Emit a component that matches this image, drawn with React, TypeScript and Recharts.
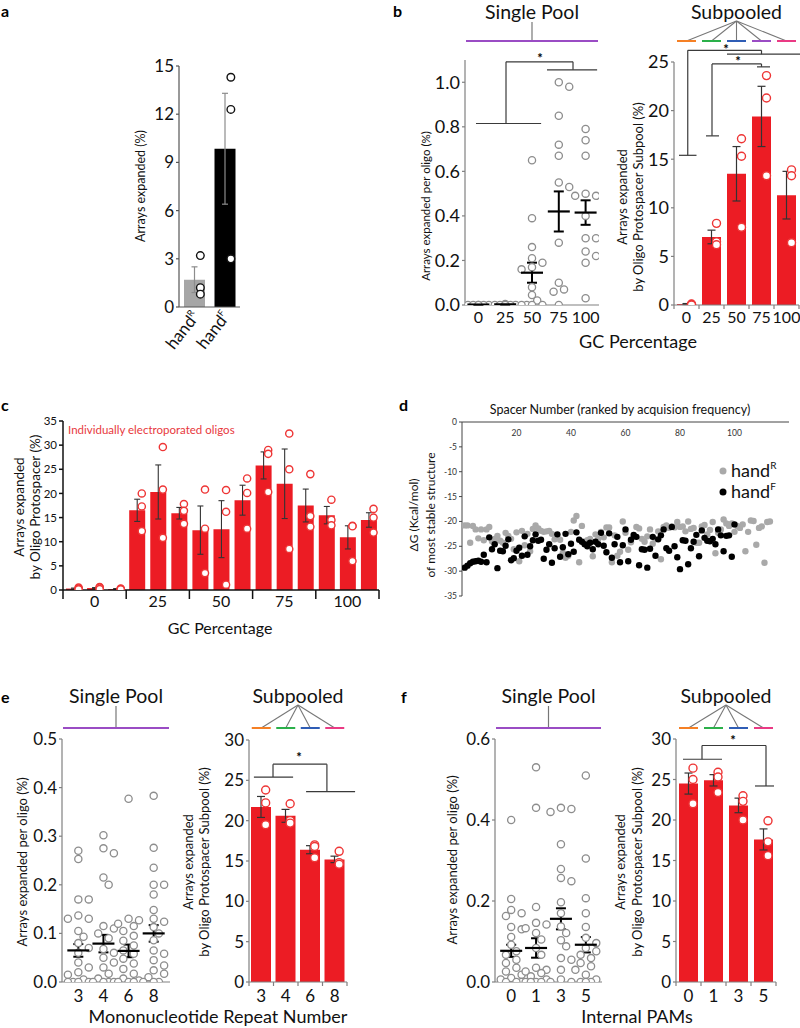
import React from 'react';
import { ComposedChart, ScatterChart, Bar, Scatter, XAxis, YAxis, ErrorBar, Cell, ReferenceLine } from 'recharts';

const FONT = "Lato, 'Open Sans', sans-serif";
const RED = '#ec1c24';
const RED_PT = '#ee3535';
const GREY_PT = '#8d8d8d';
const AX = '#808080';
const HDR = ['#f58025', '#2bb04a', '#2f5db5', '#9a4cc4', '#ea3a84'];
const PURPLE = '#9a4cc4';

// ---------------- data ----------------
// panel a
const aCats = ['R', 'F'];
const aMeans = [1.7, 9.85];
const aSem = [0.8, 3.45];
const aPtsR = [3.2, 1.2, 0.8];
const aPtsF = [14.3, 12.3, 3.0];

// panel b
const gcCats = ['0', '25', '50', '75', '100'];
const bPool0 = [0, 0, 0, 0, 0, 0];
const bPool25 = [0.005, 0, 0, 0, 0, 0, 0];
const bPool50 = [0.65, 0.39, 0.26, 0.21, 0.19, 0.17, 0.16, 0.08, 0.045, 0.02, 0, 0, 0, 0];
const bPool75 = [1.0, 0.98, 0.85, 0.72, 0.67, 0.55, 0.53, 0.28, 0.1, 0.07, 0.06, 0];
const bPool100 = [0.79, 0.74, 0.67, 0.5, 0.49, 0.49, 0.4, 0.3, 0.3, 0.24, 0.22, 0.19, 0.03];
const bPoolMean = [0.002, 0.003, 0.145, 0.42, 0.415];
const bPoolSem = [0.002, 0.002, 0.045, 0.09, 0.055];
const bSubMean = [0.1, 7.0, 13.5, 19.4, 11.3];
const bSubSem = [0.05, 0.7, 2.8, 3.1, 2.45];
const bSubPts = [[0.1, 0.05, 0], [8.4, 6.5, 6.2], [17.1, 15.3, 8.0], [23.6, 21.3, 13.3], [13.9, 13.3, 6.4]];

// panel c
const cCats = ['0a', '0b', '0c', '25a', '25b', '25c', '50a', '50b', '50c', '75a', '75b', '75c', '100a', '100b', '100c'];
const cGroupLabels = ['0', '25', '50', '75', '100'];
const cMeans = [0.3, 0.4, 0.2, 16.5, 20.3, 15.9, 12.4, 12.6, 18.6, 25.8, 22.0, 17.5, 15.5, 10.9, 14.5];
const cSem = [0.1, 0.1, 0.1, 2.3, 5.6, 1.2, 5.0, 5.9, 3.1, 2.8, 7.2, 3.4, 1.8, 2.4, 1.5];
const cPts = [
  [0.5, 0.3, 0.1], [0.6, 0.5, 0.2], [0.3, 0.2, 0.1],
  [20.0, 17.3, 12.2], [29.6, 20.8, 10.8], [17.8, 16.4, 13.7],
  [20.8, 12.7, 3.5], [20.7, 16.2, 1.1], [23.1, 20.1, 12.7],
  [29.0, 28.2, 20.3], [32.4, 25.0, 8.5], [24.0, 15.3, 13.1],
  [18.7, 14.5, 13.4], [13.3, 13.2, 6.0], [16.8, 15.0, 11.9],
];

// panel d
const dHandR = [
  -20.8, -20.8, -24.3, -20.9, -21.6, -23.4, -21.6, -23.8, -21.6, -21.1,
  -24.0, -23.5, -22.9, -23.9, -24.3, -22.3, -22.9, -23.5, -25.6, -22.2,
  -28.0, -21.9, -24.8, -22.5, -26.0, -21.5, -20.8, -21.4, -21.9, -22.1,
  -22.0, -21.9, -22.5, -23.6, -23.2, -23.7, -26.3, -27.3, -26.9, -22.1,
  -19.8, -18.9, -28.2, -20.9, -24.1, -23.8, -23.5, -27.0, -22.6, -23.5,
  -22.1, -23.2, -21.2, -21.2, -28.2, -22.8, -26.9, -26.1, -20.0, -22.3,
  -25.7, -24.2, -23.1, -21.1, -21.4, -23.5, -24.1, -23.0, -21.6, -24.5,
  -23.6, -22.0, -27.6, -21.1, -20.8, -21.3, -21.0, -21.2, -20.1, -21.1,
  -21.0, -22.0, -20.0, -21.5, -21.3, -24.3, -24.3, -21.0, -20.7, -22.6,
  -21.7, -20.1, -26.4, -22.3, -21.6, -19.6, -20.4, -20.9, -20.4, -22.1,
  -20.9, -21.3, -20.6, -26.0, -22.1, -19.8, -19.9, -24.7, -21.3, -21.0,
  -28.3, -20.1, -20.0,
];
const dHandF = [
  -29.3, -28.9, -28.4, -28.1, -28.0, -27.9, -28.1, -26.7, -28.2, -23.2,
  -25.6, -24.6, -29.4, -25.9, -26.0, -24.9, -23.6, -27.8, -27.4, -25.9,
  -25.3, -26.9, -23.0, -26.7, -25.0, -23.8, -22.6, -23.9, -23.7, -27.5,
  -25.7, -24.6, -28.3, -25.4, -22.6, -27.1, -25.2, -22.5, -26.6, -24.5,
  -26.1, -22.2, -23.7, -24.1, -24.6, -25.0, -24.3, -25.6, -24.1, -24.6,
  -22.3, -24.9, -26.2, -22.4, -27.3, -24.6, -23.1, -28.2, -24.8, -21.6,
  -28.0, -23.7, -22.7, -23.1, -28.8, -25.6, -25.7, -29.3, -25.5, -23.1,
  -26.9, -23.6, -22.8, -21.6, -25.4, -25.9, -21.1, -25.0, -27.2, -29.6,
  -23.8, -23.9, -28.6, -25.4, -24.1, -22.7, -27.0, -21.8, -23.3, -23.9,
  -24.0, -23.5, -24.6, -21.6, -22.8, -26.0, -22.9, -22.8, -27.1, -20.6,
];
const dXTicks = [20, 40, 60, 80, 100];
const dYTicks = [-35, -30, -25, -20, -15, -10, -5, 0];

// panel e
const eCats = ['3', '4', '6', '8'];
const ePool3 = [0.27, 0.253, 0.17, 0.17, 0.137, 0.13, 0.13, 0.105, 0.093, 0.08, 0.07, 0.06, 0.04, 0.03, 0.02, 0.015, 0.005, 0, 0, 0, 0];
const ePool4 = [0.302, 0.275, 0.265, 0.215, 0.2, 0.115, 0.11, 0.1, 0.09, 0.068, 0.06, 0.05, 0.04, 0.03, 0.017, 0.007, 0, 0, 0, 0];
const ePool6 = [0.377, 0.13, 0.127, 0.12, 0.115, 0.105, 0.095, 0.085, 0.075, 0.065, 0.058, 0.048, 0.038, 0.027, 0.017, 0.007, 0.003, 0, 0, 0];
const ePool8 = [0.383, 0.276, 0.235, 0.2, 0.2, 0.18, 0.148, 0.13, 0.124, 0.113, 0.1, 0.086, 0.065, 0.058, 0.045, 0.034, 0.024, 0.017, 0.01, 0, 0, 0];
const ePoolMean = [0.065, 0.079, 0.064, 0.1];
const ePoolSem = [0.013, 0.018, 0.013, 0.017];
const eSubMean = [21.7, 20.6, 16.4, 15.2];
const eSubSem = [1.3, 0.8, 0.5, 0.4];
const eSubPts = [[23.8, 22.2, 19.5], [22.1, 20.0, 19.7], [17.0, 16.8, 15.4], [16.2, 14.8, 14.6]];

// panel f
const fCats = ['0', '1', '3', '5'];
const fPool0 = [0.4, 0.205, 0.178, 0.17, 0.163, 0.136, 0.13, 0.111, 0.092, 0.076, 0.067, 0.055, 0.047, 0.035, 0.026, 0.018, 0.01, 0.006, 0, 0, 0];
const fPool1 = [0.53, 0.43, 0.185, 0.146, 0.142, 0.133, 0.121, 0.105, 0.084, 0.067, 0.035, 0.03, 0.026, 0.022, 0.014, 0.006, 0, 0, 0, 0];
const fPool3 = [0.43, 0.427, 0.42, 0.34, 0.279, 0.257, 0.249, 0.197, 0.17, 0.137, 0.121, 0.103, 0.088, 0.059, 0.055, 0.03, 0.006, 0, 0];
const fPool5 = [0.51, 0.305, 0.207, 0.17, 0.136, 0.109, 0.096, 0.084, 0.076, 0.067, 0.059, 0.047, 0.039, 0.03, 0.018, 0.006, 0, 0, 0];
const fPoolMean = [0.077, 0.084, 0.156, 0.092];
const fPoolSem = [0.015, 0.024, 0.026, 0.019];
const fSubMean = [24.5, 24.9, 21.8, 17.6];
const fSubSem = [1.3, 0.7, 0.9, 1.3];
const fSubPts = [[26.4, 25.0, 22.0], [25.9, 25.3, 23.4], [23.0, 22.3, 20.0], [19.9, 17.3, 15.6]];

// significance brackets, in data units [x1, y1, x2, y2]
const bPoolBr = [[-0.09, 0.815, 2.34, 0.815], [1.03, 0.815, 1.03, 1.092], [1.03, 1.092, 3.53, 1.092], [3.53, 1.092, 3.53, 1.056], [2.56, 1.056, 4.43, 1.056]];
const bSubBr = [
  [-0.3, 15.4, 0.4, 15.4], [0.05, 15.4, 0.05, 26.2], [0.05, 26.2, 3.0, 26.2], [3.0, 26.2, 3.0, 25.8], [1.62, 25.8, 4.54, 25.8],
  [0.78, 17.4, 1.3, 17.4], [1.02, 17.4, 1.02, 24.8], [1.02, 24.8, 3.0, 24.8], [3.0, 24.8, 3.0, 24.5], [2.82, 24.5, 3.34, 24.5],
];
const eSubBr = [[-0.3, 25.4, 1.3, 25.4], [0.48, 25.4, 0.48, 27.0], [0.48, 27.0, 2.68, 27.0], [2.68, 27.0, 2.68, 23.6], [1.83, 23.6, 3.83, 23.6]];
const fSubBr = [[-0.22, 27.5, 1.34, 27.5], [0.54, 27.5, 0.54, 29.2], [0.54, 29.2, 3.1, 29.2], [3.1, 29.2, 3.1, 24.2], [2.66, 24.2, 3.42, 24.2]];

// ---------------- layout ----------------
type Geo = { pl: number; pt: number; pr: number; pb: number; padL: number; padT: number; padR: number; padB: number };
const G = {
  a: { pl: 179, pt: 66, pr: 240, pb: 307, padL: 42, padT: 14, padR: 6, padB: 62 },
  bp: { pl: 465, pt: 60, pr: 599, pb: 305, padL: 45, padT: 12, padR: 4, padB: 30 },
  bs: { pl: 674, pt: 62, pr: 799, pb: 305, padL: 36, padT: 16, padR: 1, padB: 30 },
  c: { pl: 63, pt: 421, pr: 379, pb: 590, padL: 40, padT: 10, padR: 6, padB: 28 },
  d: { pl: 462, pt: 422, pr: 789, pb: 596, padL: 24, padT: 6, padR: 8, padB: 4 },
  ep: { pl: 62, pt: 739, pr: 170, pb: 982, padL: 45, padT: 12, padR: 4, padB: 30 },
  es: { pl: 249, pt: 740, pr: 347, pb: 982, padL: 36, padT: 12, padR: 10, padB: 30 },
  fp: { pl: 495, pt: 739, pr: 602, pb: 982, padL: 45, padT: 12, padR: 4, padB: 30 },
  fs: { pl: 676, pt: 739, pr: 776, pb: 982, padL: 36, padT: 12, padR: 6, padB: 30 },
};

function box(g: Geo) {
  return {
    left: g.pl - g.padL,
    top: g.pt - g.padT,
    width: g.pr - g.pl + g.padL + g.padR,
    height: g.pb - g.pt + g.padT + g.padB,
  };
}

function swarm(vals: number[], pxY: number, pxX: number, r: number, maxPx: number): number[] {
  const placed: { x: number; y: number }[] = [];
  const step = r * 1.45;
  const minD = r * 2.1;
  return vals.map((v) => {
    const yp = v * pxY;
    let best = 0;
    let bestD = -1;
    for (let k = 0; k < 30; k++) {
      const off = k === 0 ? 0 : (k % 2 === 1 ? 1 : -1) * Math.ceil(k / 2) * step;
      if (Math.abs(off) > maxPx) break;
      const d = placed.length ? Math.min(...placed.map((p) => Math.hypot(p.x - off, p.y - yp))) : 999;
      if (d >= minD) { best = off; bestD = d; break; }
      if (d > bestD) { bestD = d; best = off; }
    }
    placed.push({ x: best, y: yp });
    return best / pxX;
  });
}

function XTick(p: any) {
  const { x, y, payload, labels, fontSize, dy, tickLen, color, sw } = p;
  const v = payload.value;
  const lab = (labels || []).find((l: any) => Math.abs(l.v - v) < 1e-6);
  if (lab) {
    return (
      <text x={x} y={y + dy} textAnchor="middle" fontSize={fontSize} fontFamily={FONT} fill="#111">
        {lab.t}
      </text>
    );
  }
  if (!tickLen) return null;
  return <line x1={x} y1={y} x2={x} y2={y + tickLen} stroke={color} strokeWidth={sw} />;
}

const openCircle = (r: number, stroke: string, sw: number) => (sp: any) =>
  <circle cx={sp.cx} cy={sp.cy} r={r} fill="#fff" stroke={stroke} strokeWidth={sw} />;

function BarPanel(p: any) {
  const g: Geo = p.g;
  const b = box(g);
  const n = p.cats.length;
  const data = p.cats.map((c: string, i: number) => ({ c, m: p.means[i], s: p.sems[i] }));
  const ptData = p.pts.flatMap((arr: number[], i: number) => arr.map((y) => ({ x: i + p.ptOffset, y })));
  const labels = p.xLabels || [];
  const ticks = [...(p.xLines || []), ...labels.map((l: any) => l.v)];
  return (
    <div style={{ position: 'absolute', left: b.left, top: b.top }}>
      <ComposedChart width={b.width} height={b.height} data={data} margin={{ top: g.padT, right: g.padR, bottom: 0, left: 0 }}>
        <XAxis
          xAxisId="num" dataKey="x" type="number" domain={[-0.5, n - 0.5]} allowDataOverflow
          ticks={ticks} interval={0} tickSize={0} tickMargin={0} height={g.padB}
          axisLine={{ stroke: p.axisColor, strokeWidth: p.axisWidth }} tickLine={false}
          tick={p.xTick || ((tp: any) => <XTick {...tp} labels={labels} fontSize={p.xFont} dy={p.xDy} tickLen={p.xTickLen} color={p.axisColor} sw={p.axisWidth} />)}
        />
        <XAxis xAxisId="cat" dataKey="c" type="category" hide height={0} />
        <YAxis
          yAxisId="y" type="number" domain={[0, p.yMax]} allowDataOverflow ticks={p.yTicks} interval={0}
          width={g.padL} tickSize={p.yTickSize || 3} tickMargin={2}
          axisLine={{ stroke: p.axisColor, strokeWidth: p.axisWidth }} tickLine={{ stroke: p.axisColor, strokeWidth: p.axisWidth }}
          tick={{ fontSize: p.yFont, fill: '#111', fontFamily: FONT }} tickFormatter={p.yFmt}
        />
        <Bar xAxisId="cat" yAxisId="y" dataKey="m" barSize={p.barSize} isAnimationActive={false}>
          {data.map((_: any, i: number) => <Cell key={i} fill={p.fills[i % p.fills.length]} />)}
          <ErrorBar dataKey="s" direction="y" width={p.errCap} stroke={p.errColor} strokeWidth={p.errWidth} />
        </Bar>
        <Scatter xAxisId="num" yAxisId="y" data={ptData} dataKey="y" isAnimationActive={false} shape={openCircle(p.r, p.ptStroke, p.ptSw || 1.4)} />
        {(p.segs || []).map((s: number[], i: number) => (
          <ReferenceLine key={i} xAxisId="num" yAxisId="y" ifOverflow="visible" stroke="#3a3a3a" strokeWidth={1.2}
            segment={[{ x: s[0], y: s[1] }, { x: s[2], y: s[3] }]} />
        ))}
      </ComposedChart>
    </div>
  );
}

function PoolPanel(p: any) {
  const g: Geo = p.g;
  const b = box(g);
  const [d0, d1] = p.xDomain;
  const pxX = (g.pr - g.pl) / (d1 - d0);
  const pxY = (g.pb - g.pt) / p.yMax;
  const r = 3.6;
  const ptData = p.groups.flatMap((arr: number[], i: number) => {
    const offs = swarm(arr, pxY, pxX, r, 12);
    return arr.map((y, k) => ({ x: i + offs[k], y }));
  });
  const meanData = p.means.map((m: number, i: number) => ({ x: i, y: m, e: p.sems[i] }));
  const labels = p.cats.map((t: string, i: number) => ({ v: i, t }));
  return (
    <div style={{ position: 'absolute', left: b.left, top: b.top }}>
      <ComposedChart width={b.width} height={b.height} margin={{ top: g.padT, right: g.padR, bottom: 0, left: 0 }}>
        <XAxis
          xAxisId="num" dataKey="x" type="number" domain={p.xDomain} allowDataOverflow
          ticks={labels.map((l: any) => l.v)} interval={0} tickSize={0} tickMargin={0} height={g.padB}
          axisLine={{ stroke: AX, strokeWidth: 1.2 }} tickLine={false}
          tick={(tp: any) => <XTick {...tp} labels={labels} fontSize={p.xFont} dy={p.xDy} tickLen={0} />}
        />
        <YAxis
          yAxisId="y" type="number" domain={[0, p.yMax]} allowDataOverflow ticks={p.yTicks} interval={0}
          width={g.padL} tickSize={3} tickMargin={2}
          axisLine={{ stroke: AX, strokeWidth: 1.2 }} tickLine={{ stroke: AX, strokeWidth: 1.2 }}
          tick={{ fontSize: p.yFont, fill: '#111', fontFamily: FONT }} tickFormatter={(v: number) => v.toFixed(1)}
        />
        <Scatter xAxisId="num" yAxisId="y" data={ptData} dataKey="y" isAnimationActive={false} shape={openCircle(r, GREY_PT, 1.3)} />
        <Scatter xAxisId="num" yAxisId="y" data={meanData} dataKey="y" isAnimationActive={false}
          shape={(sp: any) => <line x1={sp.cx - 11} x2={sp.cx + 11} y1={sp.cy} y2={sp.cy} stroke="#000" strokeWidth={2.2} />}>
          <ErrorBar dataKey="e" direction="y" width={5} stroke="#000" strokeWidth={2} />
        </Scatter>
        {(p.segs || []).map((s: number[], i: number) => (
          <ReferenceLine key={i} xAxisId="num" yAxisId="y" ifOverflow="visible" stroke="#3a3a3a" strokeWidth={1.2}
            segment={[{ x: s[0], y: s[1] }, { x: s[2], y: s[3] }]} />
        ))}
      </ComposedChart>
    </div>
  );
}

function DPanel() {
  const g = G.d;
  const b = box(g);
  const rData = dHandR.map((y, i) => ({ x: i + 1, y }));
  const fData = dHandF.map((y, i) => ({ x: i + 1, y }));
  return (
    <div style={{ position: 'absolute', left: b.left, top: b.top }}>
      <ScatterChart width={b.width} height={b.height} margin={{ top: 0, right: g.padR, bottom: g.padB, left: 0 }}>
        <XAxis
          type="number" dataKey="x" orientation="top" domain={[0, 120]} allowDataOverflow ticks={dXTicks} interval={0}
          height={g.padT} tickSize={0} tickMargin={0} axisLine={{ stroke: '#444', strokeWidth: 1 }} tickLine={false}
          tick={(tp: any) => (
            <text x={tp.x} y={tp.y + 14} textAnchor="middle" fontSize={8.5} fontFamily={FONT} fill="#333">{tp.payload.value}</text>
          )}
        />
        <YAxis
          type="number" dataKey="y" domain={[-35, 0]} allowDataOverflow ticks={dYTicks} interval={0} width={g.padL}
          tickSize={3} tickMargin={2} axisLine={{ stroke: '#444', strokeWidth: 1 }} tickLine={{ stroke: '#444' }}
          tick={{ fontSize: 8.5, fill: '#333', fontFamily: FONT }}
        />
        <Scatter data={rData} isAnimationActive={false} shape={(sp: any) => <circle cx={sp.cx} cy={sp.cy} r={3.2} fill="#a9a9a9" />} />
        <Scatter data={fData} isAnimationActive={false} shape={(sp: any) => <circle cx={sp.cx} cy={sp.cy} r={3.2} fill="#000" />} />
      </ScatterChart>
    </div>
  );
}

const ATick = (tp: any) => {
  const i = Math.round(tp.payload.value);
  const lab = aCats[i];
  if (lab === undefined) return null;
  const ax = tp.x + 6;
  const ay = tp.y + 10;
  return (
    <text x={ax} y={ay} textAnchor="end" transform={`rotate(-52 ${ax} ${ay})`} fontSize={17} fontFamily={FONT} fill="#111">
      hand<tspan fontSize={9} dy={-7}>{lab}</tspan>
    </text>
  );
};

// ---------------- overlay (texts and headers) ----------------
function VLabel({ x, y, size, children }: any) {
  return (
    <text transform={`translate(${x},${y}) rotate(-90)`} textAnchor="middle" dominantBaseline="central" fontSize={size} fill="#111">
      {children}
    </text>
  );
}

function PoolHeader({ g, yText, yLine }: any) {
  const cx = (g.pl + g.pr) / 2;
  return (
    <g>
      <text x={cx} y={yText} textAnchor="middle" fontSize={19.5} fill="#111">Single Pool</text>
      <line x1={cx} y1={yText + 3} x2={cx} y2={yLine} stroke="#777" strokeWidth={1.2} />
      <line x1={g.pl + 1} y1={yLine} x2={g.pr - 1} y2={yLine} stroke={PURPLE} strokeWidth={2} />
    </g>
  );
}

function SubHeader({ g, n, yText, yLine, colors, half }: any) {
  const cx = (g.pl + g.pr) / 2;
  const band = (g.pr - g.pl) / n;
  const centers = Array.from({ length: n }, (_, i) => g.pl + (i + 0.5) * band);
  return (
    <g>
      <text x={cx} y={yText} textAnchor="middle" fontSize={19.5} fill="#111">Subpooled</text>
      {centers.map((c, i) => (
        <g key={i}>
          <line x1={cx} y1={yText + 2} x2={c} y2={yLine} stroke="#777" strokeWidth={1.1} />
          <line x1={c - half} y1={yLine} x2={c + half} y2={yLine} stroke={colors[i]} strokeWidth={2} />
        </g>
      ))}
    </g>
  );
}

function Overlay() {
  return (
    <svg width={800} height={1028} style={{ position: 'absolute', left: 0, top: 0, pointerEvents: 'none' }} fontFamily={FONT}>
      <g fontWeight="bold" fontSize={16} fill="#000">
        <text x={1} y={17}>a</text>
        <text x={393} y={17}>b</text>
        <text x={1} y={411}>c</text>
        <text x={399} y={411}>d</text>
        <text x={1} y={703}>e</text>
        <text x={401} y={703}>f</text>
      </g>

      <VLabel x={140} y={186} size={12.5}>Arrays expanded (%)</VLabel>

      <PoolHeader g={G.bp} yText={19} yLine={41} />
      <SubHeader g={G.bs} n={5} yText={19} yLine={41} colors={HDR} half={9.5} />
      <VLabel x={425} y={206} size={11.5}>Arrays expanded per oligo (%)</VLabel>
      <VLabel x={622} y={197} size={13}>Arrays expanded</VLabel>
      <VLabel x={638} y={197} size={13}>by Oligo Protospacer Subpool (%)</VLabel>
      <text x={638} y={348} textAnchor="middle" fontSize={18} fill="#111">GC Percentage</text>
      <text x={540} y={63} textAnchor="middle" fontSize={13} fontWeight="bold">*</text>
      <text x={726} y={54} textAnchor="middle" fontSize={13} fontWeight="bold">*</text>
      <text x={738} y={66} textAnchor="middle" fontSize={13} fontWeight="bold">*</text>

      <text x={68} y={434} fontSize={11.5} fill="#e8383d">Individually electroporated oligos</text>
      <VLabel x={19} y={507} size={13.5}>Arrays expanded</VLabel>
      <VLabel x={35} y={507} size={13.5}>by Oligo Protospacer (%)</VLabel>
      <text x={220} y={634} textAnchor="middle" fontSize={16} fill="#111">GC Percentage</text>

      <text x={620} y={414} textAnchor="middle" fontSize={12.5} fill="#111">Spacer Number (ranked by acquision frequency)</text>
      <VLabel x={413} y={515} size={12}>ΔG (Kcal/mol)</VLabel>
      <VLabel x={430} y={515} size={12}>of most stable structure</VLabel>
      <circle cx={723} cy={471} r={3.5} fill="#a9a9a9" />
      <text x={731} y={477} fontSize={18} fill="#111">hand<tspan fontSize={10} dy={-8}>R</tspan></text>
      <circle cx={723} cy={492} r={3.5} fill="#000" />
      <text x={731} y={498} fontSize={18} fill="#111">hand<tspan fontSize={10} dy={-8}>F</tspan></text>

      <PoolHeader g={G.ep} yText={703} yLine={728} />
      <SubHeader g={G.es} n={4} yText={703} yLine={728} colors={[HDR[0], HDR[1], HDR[2], HDR[4]]} half={9.5} />
      <VLabel x={22} y={862} size={13}>Arrays expanded per oligo (%)</VLabel>
      <VLabel x={188} y={862} size={13}>Arrays expanded</VLabel>
      <VLabel x={204} y={862} size={13}>by Oligo Protospacer Subpool (%)</VLabel>
      <text x={218} y={1023} textAnchor="middle" fontSize={18} fill="#111">Mononucleotide Repeat Number</text>
      <text x={299} y={762} textAnchor="middle" fontSize={13} fontWeight="bold">*</text>

      <PoolHeader g={G.fp} yText={703} yLine={728} />
      <SubHeader g={G.fs} n={4} yText={703} yLine={728} colors={[HDR[0], HDR[1], HDR[2], HDR[4]]} half={9.5} />
      <VLabel x={452} y={860} size={13}>Arrays expanded per oligo (%)</VLabel>
      <VLabel x={620} y={862} size={13}>Arrays expanded</VLabel>
      <VLabel x={637} y={862} size={13}>by Oligo Protospacer Subpool (%)</VLabel>
      <text x={637} y={1023} textAnchor="middle" fontSize={18} fill="#111">Internal PAMs</text>
      <text x={733} y={745} textAnchor="middle" fontSize={13} fontWeight="bold">*</text>
    </svg>
  );
}

const range = (a: number, b: number, s: number) => {
  const out: number[] = [];
  for (let v = a; v <= b + 1e-9; v += s) out.push(Math.round(v * 1000) / 1000);
  return out;
};

export default function App() {
  const subLines = (n: number) => range(-0.5, n - 0.5, 1);
  const catLabels = (cats: string[]) => cats.map((t, i) => ({ v: i, t }));
  return (
    <div style={{ position: 'absolute', left: 0, top: 0, width: 800, height: 1028, background: '#fff', overflow: 'hidden', fontFamily: FONT }}>
      {/* a */}
      <BarPanel
        g={G.a} cats={aCats} means={aMeans} sems={aSem} pts={[aPtsR, aPtsF]} fills={['#a6a6a6', '#000000']}
        ptStroke="#111" ptOffset={0.2} r={3.8} yMax={15} yTicks={range(0, 15, 3)} yFont={17}
        axisColor="#555" axisWidth={1.2} errColor="#8c8c8c" errWidth={1.2} errCap={3} barSize={21}
        xTick={ATick} xLabels={catLabels(aCats)}
      />
      {/* b */}
      <PoolPanel
        g={G.bp} cats={gcCats} xDomain={[-0.5, 4.5]} groups={[bPool0, bPool25, bPool50, bPool75, bPool100]}
        means={bPoolMean} sems={bPoolSem} yMax={1.1} yTicks={range(0, 1, 0.2)} yFont={18} xFont={16} xDy={18} segs={bPoolBr}
      />
      <BarPanel
        g={G.bs} cats={gcCats} means={bSubMean} sems={bSubSem} pts={bSubPts} fills={[RED]}
        ptStroke={RED_PT} ptOffset={0.2} r={4} yMax={25} yTicks={range(0, 25, 5)} yFont={18}
        axisColor={AX} axisWidth={1.2} errColor="#333" errWidth={1.2} errCap={4} barSize={19}
        xLabels={catLabels(gcCats)} xLines={subLines(5)} xFont={16} xDy={18} xTickLen={4} segs={bSubBr}
      />
      {/* c */}
      <BarPanel
        g={G.c} cats={cCats} means={cMeans} sems={cSem} pts={cPts} fills={[RED]}
        ptStroke={RED_PT} ptOffset={0.24} r={3.6} yMax={35} yTicks={range(0, 35, 5)} yFont={11.5} yTickSize={4}
        axisColor="#111" axisWidth={1.5} errColor="#333" errWidth={1.1} errCap={3} barSize={16}
        xLabels={cGroupLabels.map((t, i) => ({ v: i * 3 + 1, t }))} xLines={range(-0.5, 14.5, 3)} xFont={16} xDy={17} xTickLen={9}
      />
      {/* d */}
      <DPanel />
      {/* e */}
      <PoolPanel
        g={G.ep} cats={eCats} xDomain={[-0.65, 3.65]} groups={[ePool3, ePool4, ePool6, ePool8]}
        means={ePoolMean} sems={ePoolSem} yMax={0.5} yTicks={range(0, 0.5, 0.1)} yFont={17} xFont={17} xDy={20}
      />
      <BarPanel
        g={G.es} cats={eCats} means={eSubMean} sems={eSubSem} pts={eSubPts} fills={[RED]}
        ptStroke={RED_PT} ptOffset={0.18} r={4} yMax={30} yTicks={range(0, 30, 5)} yFont={17}
        axisColor={AX} axisWidth={1.2} errColor="#333" errWidth={1.2} errCap={4} barSize={20}
        xLabels={catLabels(eCats)} xLines={subLines(4)} xFont={17} xDy={20} xTickLen={4} segs={eSubBr}
      />
      {/* f */}
      <PoolPanel
        g={G.fp} cats={fCats} xDomain={[-0.65, 3.65]} groups={[fPool0, fPool1, fPool3, fPool5]}
        means={fPoolMean} sems={fPoolSem} yMax={0.6} yTicks={range(0, 0.6, 0.2)} yFont={17} xFont={17} xDy={20}
      />
      <BarPanel
        g={G.fs} cats={fCats} means={fSubMean} sems={fSubSem} pts={fSubPts} fills={[RED]}
        ptStroke={RED_PT} ptOffset={0.18} r={4} yMax={30} yTicks={range(0, 30, 5)} yFont={17}
        axisColor={AX} axisWidth={1.2} errColor="#333" errWidth={1.2} errCap={4} barSize={19}
        xLabels={catLabels(fCats)} xLines={subLines(4)} xFont={17} xDy={20} xTickLen={4} segs={fSubBr}
      />
      <Overlay />
    </div>
  );
}
